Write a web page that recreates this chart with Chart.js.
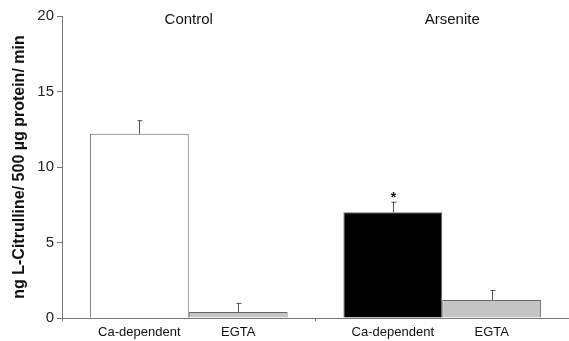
<!DOCTYPE html>
<html>
<head>
<meta charset="utf-8">
<script src="https://cdn.jsdelivr.net/npm/chart.js@4.4.1/dist/chart.umd.min.js"></script>
<style>
  html, body { margin: 0; padding: 0; background: #fff; }
  #wrap { width: 569px; height: 341px; }
</style>
</head>
<body>
<div id="wrap"><canvas id="nosChart"></canvas></div>
<script>
// grupos y condiciones
const groups = ["Control", "Arsenite"];
const conditions = ["Ca-dependent", "EGTA"];
// valores (ng L-Citrulline / 500 ug protein / min)
const caDependent = [12.2, 7.0];
const egta = [0.4, 1.2];
// error estandar (solo hacia arriba)
const caDependentErr = [0.9, 0.7];
const egtaErr = [0.6, 0.65];
const significant = [false, true];
const yTicks = [0, 5, 10, 15, 20];

const FONT = "'Liberation Sans', Arial, Helvetica, sans-serif";

// dibuja barras de error, asterisco y etiquetas
const annotations = {
    id: "annotations",
    afterDatasetsDraw(chart) {
        const ctx = chart.ctx;
        const y = chart.scales.y;
        const errs = [caDependentErr, egtaErr];
        ctx.save();
        ctx.strokeStyle = "#555";
        ctx.lineWidth = 1;
        chart.data.datasets.forEach((ds, di) => {
            const meta = chart.getDatasetMeta(di);
            meta.data.forEach((bar, i) => {
                const top = y.getPixelForValue(ds.data[i]);
                const errTop = y.getPixelForValue(ds.data[i] + errs[di][i]);
                const x = Math.round(bar.x) + 0.5;
                ctx.beginPath();
                ctx.moveTo(x, top);
                ctx.lineTo(x, errTop);
                ctx.moveTo(x - 2, errTop + 0.5);
                ctx.lineTo(x + 3, errTop + 0.5);
                ctx.stroke();
                if (di === 0 && significant[i]) {
                    ctx.fillStyle = "#111";
                    ctx.font = "bold 14px " + FONT;
                    ctx.textAlign = "center";
                    ctx.textBaseline = "middle";
                    ctx.fillText("*", x, errTop - 4);
                }
                // etiqueta de condicion bajo la barra
                ctx.fillStyle = "#111";
                ctx.font = "13px " + FONT;
                ctx.textAlign = "center";
                ctx.textBaseline = "middle";
                ctx.fillText(conditions[di], bar.x, chart.chartArea.bottom + 14);
            });
        });
        // nombres de grupo arriba
        const xs = chart.scales.x;
        ctx.font = "15px " + FONT;
        ctx.fillStyle = "#111";
        groups.forEach((g, i) => {
            ctx.fillText(g, xs.getPixelForValue(i) + (i === 1 ? 10 : 0), 20);
        });
        ctx.restore();
    },
};

const ctx = document.getElementById("nosChart").getContext("2d");

new Chart(ctx, {
    type: "bar",
    data: {
        labels: groups,
        datasets: [
            {
                label: conditions[0],
                data: caDependent,
                backgroundColor: ["#ffffff", "#000000"],
                borderColor: "#666",
                borderWidth: 1,
            },
            {
                label: conditions[1],
                data: egta,
                backgroundColor: "#c4c4c4",
                borderColor: "#666",
                borderWidth: 1,
            },
        ],
    },
    options: {
        responsive: true,
        maintainAspectRatio: false,
        animation: false,
        layout: { padding: { top: 16, right: 0, left: 0, bottom: 0 } },
        datasets: {
            bar: { categoryPercentage: 0.78, barPercentage: 1 },
        },
        plugins: {
            legend: { display: false },
            tooltip: { enabled: false },
        },
        scales: {
            x: {
                ticks: { display: false },
                grid: { drawOnChartArea: false, drawTicks: true, tickLength: 3, color: "#777" },
                border: { color: "#777" },
                afterFit(scale) { scale.height = 23; },
            },
            y: {
                min: 0,
                max: 20,
                afterBuildTicks(scale) { scale.ticks = yTicks.map((v) => ({ value: v })); },
                ticks: { color: "#222", font: { family: FONT, size: 15 }, padding: 3 },
                grid: { drawOnChartArea: false, drawTicks: true, tickLength: 5, color: "#777" },
                border: { color: "#777" },
                title: {
                    display: true,
                    text: "ng L-Citrulline/ 500 µg protein/ min",
                    color: "#111",
                    font: { family: FONT, size: 16, weight: "bold" },
                    padding: { top: 10, bottom: 0 },
                },
                afterFit(scale) { scale.width = 62; },
            },
        },
    },
    plugins: [annotations],
});
</script>
</body>
</html>
